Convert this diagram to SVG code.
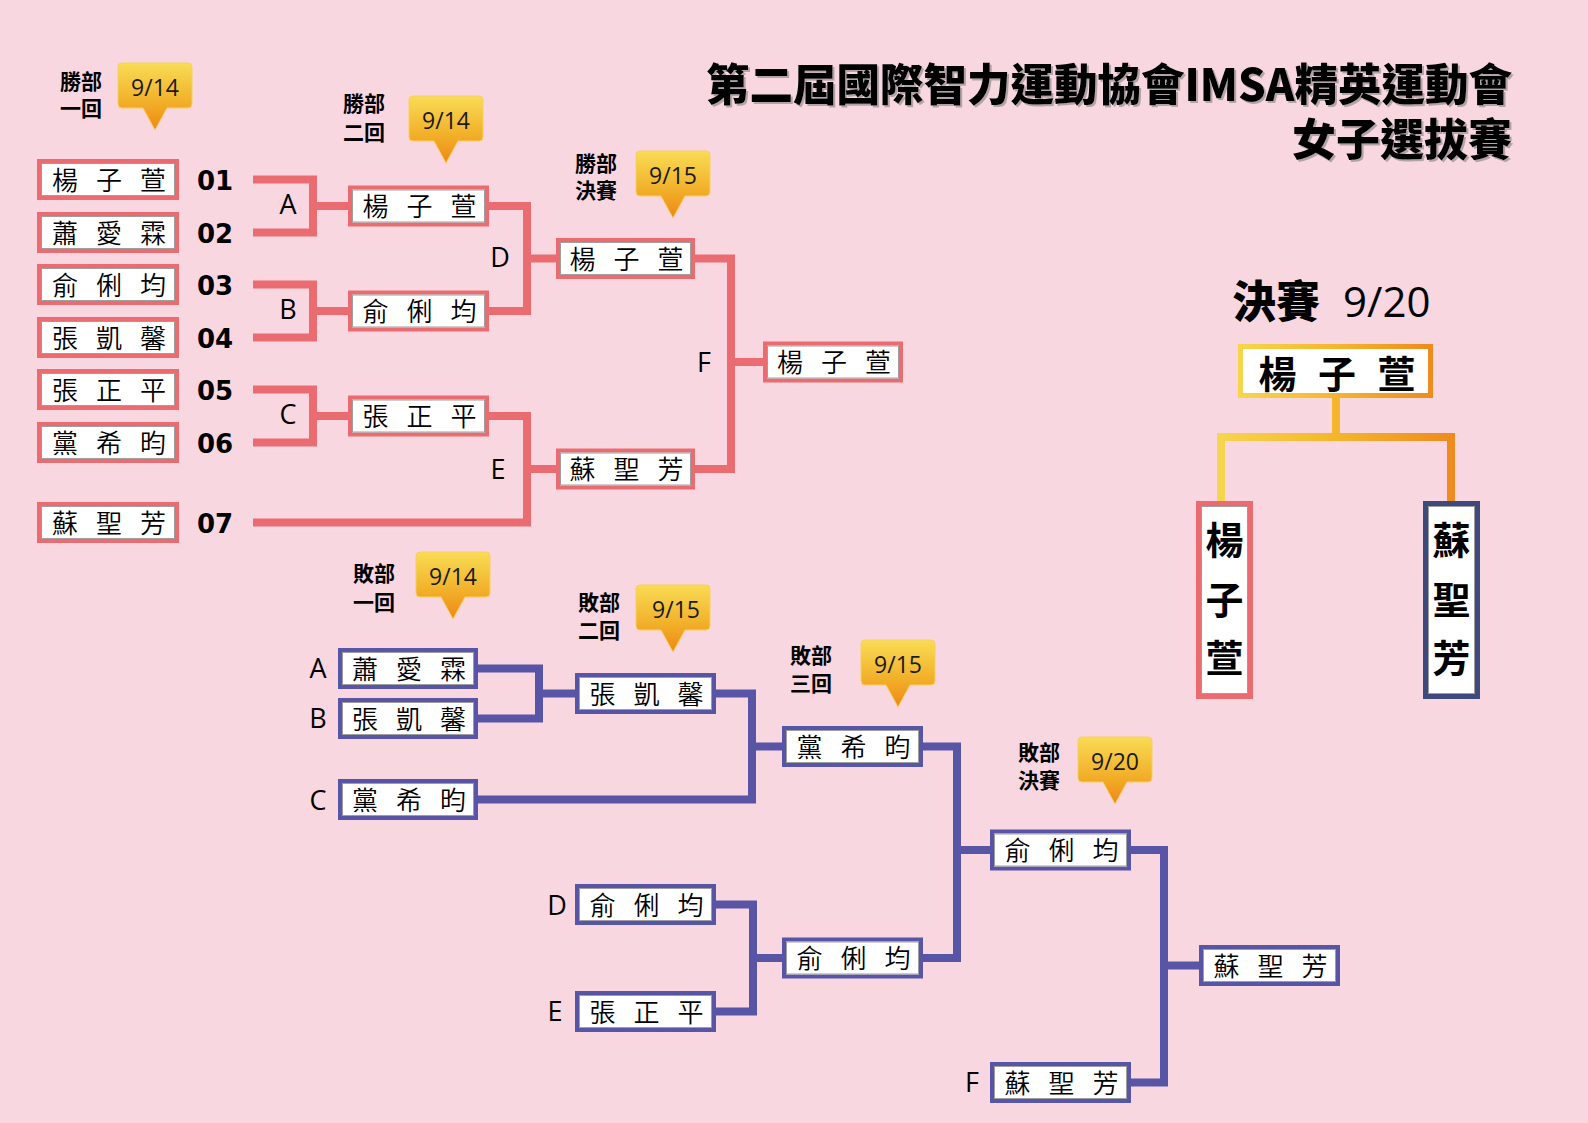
<svg xmlns="http://www.w3.org/2000/svg" xmlns:xlink="http://www.w3.org/1999/xlink" width="1588" height="1123" viewBox="0 0 1588 1123">
<defs>
<style>
.bg{fill:#F8D7E0}
.wl{fill:none;stroke:#EA6C70;stroke-width:8;stroke-linejoin:miter;stroke-linecap:butt}
.ll{fill:none;stroke:#5955A6;stroke-width:8;stroke-linejoin:miter;stroke-linecap:butt}
.bw{fill:#fff;stroke:#EA6C70;stroke-width:4}
.bl{fill:#fff;stroke:#5955A6;stroke-width:4}
.bi{fill:none;stroke:#9E9E9E;stroke-width:1}
.nm{font-family:"Noto Sans CJK TC","Noto Sans CJK SC",sans-serif;font-size:26px;font-weight:350;fill:#000;text-anchor:middle}
.num{font-family:"DejaVu Sans",sans-serif;font-weight:bold;font-size:26px;fill:#000}
.lt{font-family:"Open Sans","Liberation Sans",sans-serif;font-size:27px;fill:#000;text-anchor:middle}
.hd{font-family:"Noto Sans CJK TC","Noto Sans CJK SC",sans-serif;font-weight:700;font-size:21px;fill:#000}
.dt{font-family:"Open Sans","Liberation Sans",sans-serif;font-size:23px;fill:#1a1a1a;text-anchor:middle}
.co{fill:url(#gCo);stroke:#F6D060;stroke-width:1}
.ttl{font-family:"Noto Sans CJK TC","Noto Sans CJK SC",sans-serif;font-weight:900;font-size:44px;fill:#000;text-anchor:end}
.fb{font-family:"Noto Sans CJK TC","Noto Sans CJK SC",sans-serif;font-weight:700;font-size:38px;fill:#000;text-anchor:middle}
</style>
<linearGradient id="gCo" x1="0" y1="0" x2="0" y2="1">
<stop offset="0" stop-color="#F9DC55"/>
<stop offset="0.6" stop-color="#F2AE28"/>
<stop offset="1" stop-color="#EE8716"/>
</linearGradient>
<linearGradient id="gH" gradientUnits="userSpaceOnUse" x1="1238" y1="0" x2="1433" y2="0">
<stop offset="0" stop-color="#F6D64E"/>
<stop offset="0.5" stop-color="#F4B62C"/>
<stop offset="1" stop-color="#EE8A1E"/>
</linearGradient>
<linearGradient id="gC" gradientUnits="userSpaceOnUse" x1="1217" y1="0" x2="1455" y2="0">
<stop offset="0" stop-color="#F6D64E"/>
<stop offset="0.5" stop-color="#F4B62C"/>
<stop offset="1" stop-color="#EE8A1E"/>
</linearGradient>
<path id="callout" d="M4,0 H70 Q74,0 74,4 V41 Q74,45 70,45 H49 L37,67 L25,45 H4 Q0,45 0,41 V4 Q0,0 4,0 Z"/>
<filter id="sh" x="-5%" y="-20%" width="110%" height="140%">
<feDropShadow dx="2" dy="2" stdDeviation="0.6" flood-color="#777" flood-opacity="0.55"/>
</filter>
</defs>

<rect class="bg" x="0" y="0" width="1588" height="1123"/>

<g id="title" filter="url(#sh)">
<text class="ttl" x="1512" y="101" textLength="806" lengthAdjust="spacingAndGlyphs">第二屆國際智力運動協會IMSA精英運動會</text>
<text class="ttl" x="1512" y="156">女子選拔賽</text>
</g>

<g id="connectors">
<path class="wl" d="M253,179.5 H313 V232.5 H253 M313,206 H348"/>
<path class="wl" d="M253,284.5 H313 V337.5 H253 M313,311 H348"/>
<path class="wl" d="M253,389.5 H313 V442.5 H253 M313,416 H348"/>
<path class="wl" d="M489,206 H527 V311 H489 M527,258.5 H556"/>
<path class="wl" d="M489,416 H527 V522.5 H253 M527,469 H556"/>
<path class="wl" d="M695,258.5 H731 V469 H695 M731,362 H763"/>
<path class="ll" d="M478,668.5 H539 V718.5 H478 M539,693.5 H575"/>
<path class="ll" d="M716,693.5 H752 V799.5 H478 M752,746.5 H782"/>
<path class="ll" d="M716,904.5 H753 V1011.5 H716 M753,958 H782"/>
<path class="ll" d="M923,746.5 H957 V958 H923 M957,850 H990"/>
<path class="ll" d="M1131,850 H1164 V1082.5 H1131 M1164,965.5 H1199"/>
<path fill="none" stroke="url(#gC)" stroke-width="8" d="M1221,501 V437 H1451 V501 M1336,398 V437"/>
</g>

<g id="labels">
<text class="hd" x="60" y="89">勝部<tspan x="60" y="116">一回</tspan></text>
<text class="hd" x="343" y="111">勝部<tspan x="343" y="140">二回</tspan></text>
<text class="hd" x="575" y="171">勝部<tspan x="575" y="198">決賽</tspan></text>
<text class="hd" x="353" y="581">敗部<tspan x="353" y="610">一回</tspan></text>
<text class="hd" x="578" y="610">敗部<tspan x="578" y="638">二回</tspan></text>
<text class="hd" x="790" y="663">敗部<tspan x="790" y="691">三回</tspan></text>
<text class="hd" x="1018" y="760">敗部<tspan x="1018" y="788">決賽</tspan></text>
<text class="num" x="197" y="189.5">01</text>
<text class="num" x="197" y="242.5">02</text>
<text class="num" x="197" y="294.5">03</text>
<text class="num" x="197" y="347.5">04</text>
<text class="num" x="197" y="399.5">05</text>
<text class="num" x="197" y="452.5">06</text>
<text class="num" x="197" y="532.5">07</text>
<text class="lt" x="288" y="214">A</text>
<text class="lt" x="288" y="319">B</text>
<text class="lt" x="288" y="424">C</text>
<text class="lt" x="500" y="267">D</text>
<text class="lt" x="498" y="479">E</text>
<text class="lt" x="704" y="372">F</text>
<text class="lt" x="318" y="678">A</text>
<text class="lt" x="318" y="728">B</text>
<text class="lt" x="318" y="810">C</text>
<text class="lt" x="557" y="915">D</text>
<text class="lt" x="555" y="1021">E</text>
<text class="lt" x="972" y="1092">F</text>
<text class="fb" x="1232" y="318" style="font-size:44px;text-anchor:start;font-weight:900">決賽</text>
<text class="dt" x="1343" y="317" style="font-size:42px;text-anchor:start;fill:#000">9/20</text>
</g>

<g id="callouts">
<use xlink:href="#callout" href="#callout" class="co" x="118" y="63"/>
<text class="dt" x="155" y="96">9/14</text>
<use xlink:href="#callout" href="#callout" class="co" x="409" y="96"/>
<text class="dt" x="446" y="129">9/14</text>
<use xlink:href="#callout" href="#callout" class="co" x="636" y="151"/>
<text class="dt" x="673" y="184">9/15</text>
<use xlink:href="#callout" href="#callout" class="co" x="416" y="552"/>
<text class="dt" x="453" y="585">9/14</text>
<use xlink:href="#callout" href="#callout" class="co" x="636" y="585"/>
<text class="dt" x="676" y="618">9/15</text>
<use xlink:href="#callout" href="#callout" class="co" x="861" y="640"/>
<text class="dt" x="898" y="673">9/15</text>
<use xlink:href="#callout" href="#callout" class="co" x="1078" y="737"/>
<text class="dt" x="1115" y="770">9/20</text>
</g>

<g id="w1-1"><rect class="bw" x="39" y="161" width="138" height="37"/><rect class="bi" x="41.5" y="163.5" width="133" height="32"/><text class="nm" x="109" y="189.5" textLength="114" lengthAdjust="spacing">楊 子 萱</text></g>
<g id="w1-2"><rect class="bw" x="39" y="214" width="138" height="37"/><rect class="bi" x="41.5" y="216.5" width="133" height="32"/><text class="nm" x="109" y="242.5" textLength="114" lengthAdjust="spacing">蕭 愛 霖</text></g>
<g id="w1-3"><rect class="bw" x="39" y="266" width="138" height="37"/><rect class="bi" x="41.5" y="268.5" width="133" height="32"/><text class="nm" x="109" y="294.5" textLength="114" lengthAdjust="spacing">俞 俐 均</text></g>
<g id="w1-4"><rect class="bw" x="39" y="319" width="138" height="37"/><rect class="bi" x="41.5" y="321.5" width="133" height="32"/><text class="nm" x="109" y="347.5" textLength="114" lengthAdjust="spacing">張 凱 馨</text></g>
<g id="w1-5"><rect class="bw" x="39" y="371" width="138" height="37"/><rect class="bi" x="41.5" y="373.5" width="133" height="32"/><text class="nm" x="109" y="399.5" textLength="114" lengthAdjust="spacing">張 正 平</text></g>
<g id="w1-6"><rect class="bw" x="39" y="424" width="138" height="37"/><rect class="bi" x="41.5" y="426.5" width="133" height="32"/><text class="nm" x="109" y="452.5" textLength="114" lengthAdjust="spacing">黨 希 昀</text></g>
<g id="w1-7"><rect class="bw" x="39" y="504" width="138" height="37"/><rect class="bi" x="41.5" y="506.5" width="133" height="32"/><text class="nm" x="109" y="532.5" textLength="114" lengthAdjust="spacing">蘇 聖 芳</text></g>

<g id="w2-1"><rect class="bw" x="350" y="187.5" width="137" height="37"/><rect class="bi" x="352.5" y="190" width="132" height="32"/><text class="nm" x="419.5" y="216" textLength="114" lengthAdjust="spacing">楊 子 萱</text></g>
<g id="w2-2"><rect class="bw" x="350" y="292.5" width="137" height="37"/><rect class="bi" x="352.5" y="295" width="132" height="32"/><text class="nm" x="419.5" y="321" textLength="114" lengthAdjust="spacing">俞 俐 均</text></g>
<g id="w2-3"><rect class="bw" x="350" y="397.5" width="137" height="37"/><rect class="bi" x="352.5" y="400" width="132" height="32"/><text class="nm" x="419.5" y="426" textLength="114" lengthAdjust="spacing">張 正 平</text></g>

<g id="w3-1"><rect class="bw" x="558" y="240" width="135" height="37"/><rect class="bi" x="560.5" y="242.5" width="130" height="32"/><text class="nm" x="626.5" y="268.5" textLength="114" lengthAdjust="spacing">楊 子 萱</text></g>
<g id="w3-2"><rect class="bw" x="558" y="450.5" width="135" height="37"/><rect class="bi" x="560.5" y="453" width="130" height="32"/><text class="nm" x="626.5" y="479" textLength="114" lengthAdjust="spacing">蘇 聖 芳</text></g>

<g id="w4"><rect class="bw" x="765" y="343.5" width="136" height="37"/><rect class="bi" x="767.5" y="346" width="131" height="32"/><text class="nm" x="834" y="372" textLength="114" lengthAdjust="spacing">楊 子 萱</text></g>

<g id="l1-1"><rect class="bl" x="340" y="650" width="136" height="37"/><rect class="bi" x="342.5" y="652.5" width="131" height="32"/><text class="nm" x="409" y="678.5" textLength="114" lengthAdjust="spacing">蕭 愛 霖</text></g>
<g id="l1-2"><rect class="bl" x="340" y="700" width="136" height="37"/><rect class="bi" x="342.5" y="702.5" width="131" height="32"/><text class="nm" x="409" y="728.5" textLength="114" lengthAdjust="spacing">張 凱 馨</text></g>
<g id="l1-3"><rect class="bl" x="340" y="781" width="136" height="37"/><rect class="bi" x="342.5" y="783.5" width="131" height="32"/><text class="nm" x="409" y="809.5" textLength="114" lengthAdjust="spacing">黨 希 昀</text></g>
<g id="l2-1"><rect class="bl" x="577" y="675" width="137" height="37"/><rect class="bi" x="579.5" y="677.5" width="132" height="32"/><text class="nm" x="646.5" y="703.5" textLength="114" lengthAdjust="spacing">張 凱 馨</text></g>
<g id="l3-1"><rect class="bl" x="784" y="728" width="137" height="37"/><rect class="bi" x="786.5" y="730.5" width="132" height="32"/><text class="nm" x="853.5" y="756.5" textLength="114" lengthAdjust="spacing">黨 希 昀</text></g>
<g id="l1-4"><rect class="bl" x="577" y="886" width="137" height="37"/><rect class="bi" x="579.5" y="888.5" width="132" height="32"/><text class="nm" x="646.5" y="914.5" textLength="114" lengthAdjust="spacing">俞 俐 均</text></g>
<g id="l1-5"><rect class="bl" x="577" y="993" width="137" height="37"/><rect class="bi" x="579.5" y="995.5" width="132" height="32"/><text class="nm" x="646.5" y="1021.5" textLength="114" lengthAdjust="spacing">張 正 平</text></g>
<g id="l3-2"><rect class="bl" x="784" y="939.5" width="137" height="37"/><rect class="bi" x="786.5" y="942" width="132" height="32"/><text class="nm" x="853.5" y="968" textLength="114" lengthAdjust="spacing">俞 俐 均</text></g>
<g id="l4-1"><rect class="bl" x="992" y="831.5" width="137" height="37"/><rect class="bi" x="994.5" y="834" width="132" height="32"/><text class="nm" x="1061.5" y="860" textLength="114" lengthAdjust="spacing">俞 俐 均</text></g>
<g id="l4-2"><rect class="bl" x="992" y="1064" width="137" height="37"/><rect class="bi" x="994.5" y="1066.5" width="132" height="32"/><text class="nm" x="1061.5" y="1092.5" textLength="114" lengthAdjust="spacing">蘇 聖 芳</text></g>
<g id="l5"><rect class="bl" x="1201" y="947" width="137" height="37"/><rect class="bi" x="1203.5" y="949.5" width="132" height="32"/><text class="nm" x="1270.5" y="975.5" textLength="114" lengthAdjust="spacing">蘇 聖 芳</text></g>

<g id="champion"><rect x="1240.5" y="346.5" width="190" height="49" fill="#fff" stroke="url(#gH)" stroke-width="5"/><text class="fb" x="1337" y="388" textLength="157" lengthAdjust="spacing">楊 子 萱</text></g>
<g id="final-left"><rect x="1198.5" y="503.5" width="52" height="193" fill="#fff" stroke="#EA6C70" stroke-width="5"/><rect class="bi" x="1201.5" y="506.5" width="46" height="187"/><text class="fb" x="1224.5" y="554">楊<tspan x="1224.5" y="614">子</tspan><tspan x="1224.5" y="672">萱</tspan></text></g>
<g id="final-right"><rect x="1425.5" y="503.5" width="52" height="193" fill="#fff" stroke="#3E4A7C" stroke-width="5"/><rect class="bi" x="1428.5" y="506.5" width="46" height="187"/><text class="fb" x="1451.5" y="554">蘇<tspan x="1451.5" y="614">聖</tspan><tspan x="1451.5" y="672">芳</tspan></text></g>
</svg>
